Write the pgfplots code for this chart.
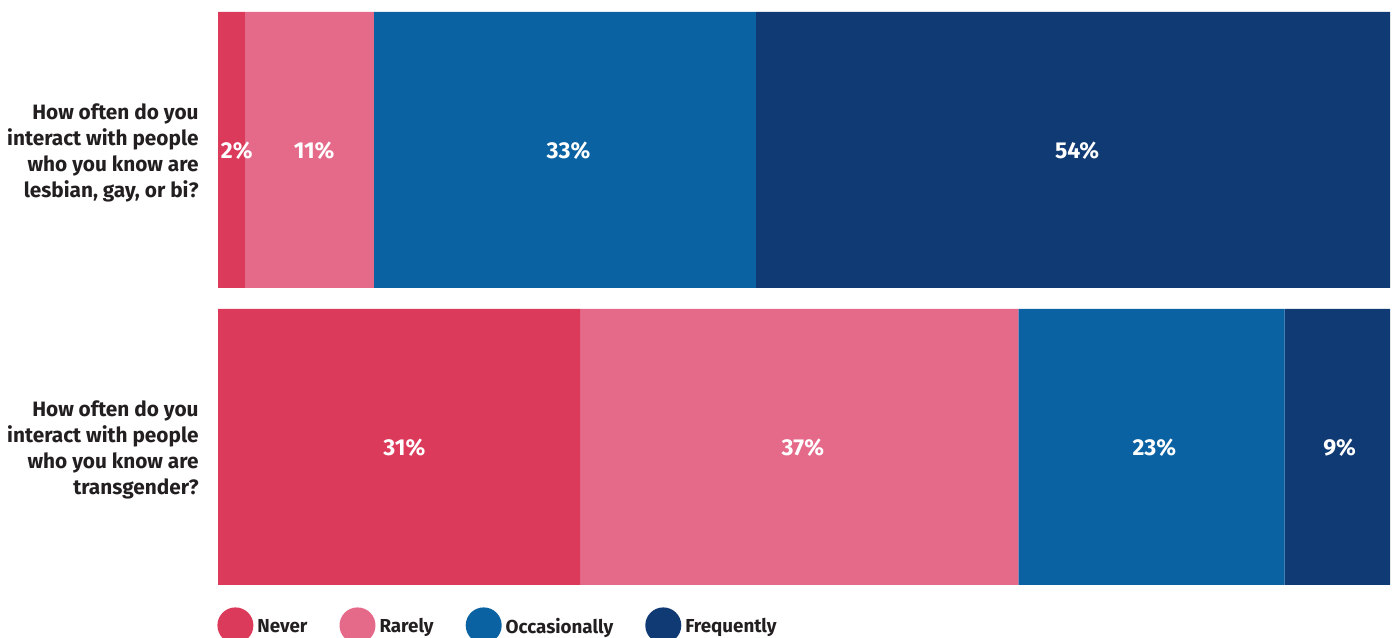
\documentclass[border=0pt]{standalone}
\usepackage{pgfplots}
\pgfplotsset{compat=1.18}
\usepackage{fontspec}
\setmainfont{Fira Sans}
\definecolor{never}{HTML}{DC3A5A}
\definecolor{rarely}{HTML}{E56A8A}
\definecolor{occas}{HTML}{0A62A2}
\definecolor{freq}{HTML}{103A73}
\definecolor{txt}{HTML}{231F20}
\begin{document}
\begin{tikzpicture}
\useasboundingbox (0pt,0pt) rectangle (698.5pt,318.5pt);
\pgfplotsset{
  common/.style={
    at={(109pt,26pt)}, anchor=south west,
    scale only axis, width=586pt, height=286.5pt,
    xmin=0, xmax=100, ymin=-0.4646, ymax=1.4646,
    axis line style={draw=none},
  }
}
\begin{axis}[common,
  xbar stacked, bar width=0.9293,
  xtick=\empty,
  ytick={0,1},
  yticklabels={{How often do you\\interact with people\\who you know are\\transgender?},{How often do you\\interact with people\\who you know are\\lesbian, gay, or bi?}},
  ytick style={draw=none},
  yticklabel style={align=right, font=\fontsize{10.4}{13.1}\selectfont\bfseries, text=txt, inner sep=0pt, xshift=-9.5pt, yshift=-1.5pt},
  legend columns=4,
  legend style={draw=none, fill=none, at={(0,0)}, anchor=north west, xshift=-0.5pt, yshift=-11pt,
    font=\fontsize{9.4}{11}\selectfont\bfseries, text=txt, inner sep=0pt,
    nodes={yshift=2.7pt},
    /tikz/every even column/.append style={column sep=14pt}},
  legend image code/.code={\fill[#1] (9pt,3.5pt) circle (9pt);},
]
\addplot[fill=never, draw=none] coordinates {(30.9,0) (2.3,1)};
\addlegendentry{Never}
\addplot[fill=rarely, draw=none] coordinates {(37.4,0) (11.0,1)};
\addlegendentry{Rarely}
\addplot[fill=occas, draw=none] coordinates {(22.7,0) (32.6,1)};
\addlegendentry{Occasionally}
\addplot[fill=freq, draw=none] coordinates {(9.0,0) (54.1,1)};
\addlegendentry{Frequently}
\end{axis}
\begin{axis}[common, xtick=\empty, ytick=\empty]
\addplot[draw=none, mark=none, nodes near coords, point meta=explicit symbolic,
  every node near coord/.style={anchor=center, text=white, yshift=-0.5pt, font=\fontsize{11.5}{13}\selectfont\bfseries}]
  table[meta=label] {
x y label
1.6 1 2\%
8.2 1 11\%
29.9 1 33\%
73.3 1 54\%
15.9 0 31\%
49.9 0 37\%
79.9 0 23\%
95.7 0 9\%
};
\end{axis}
\end{tikzpicture}
\end{document}
